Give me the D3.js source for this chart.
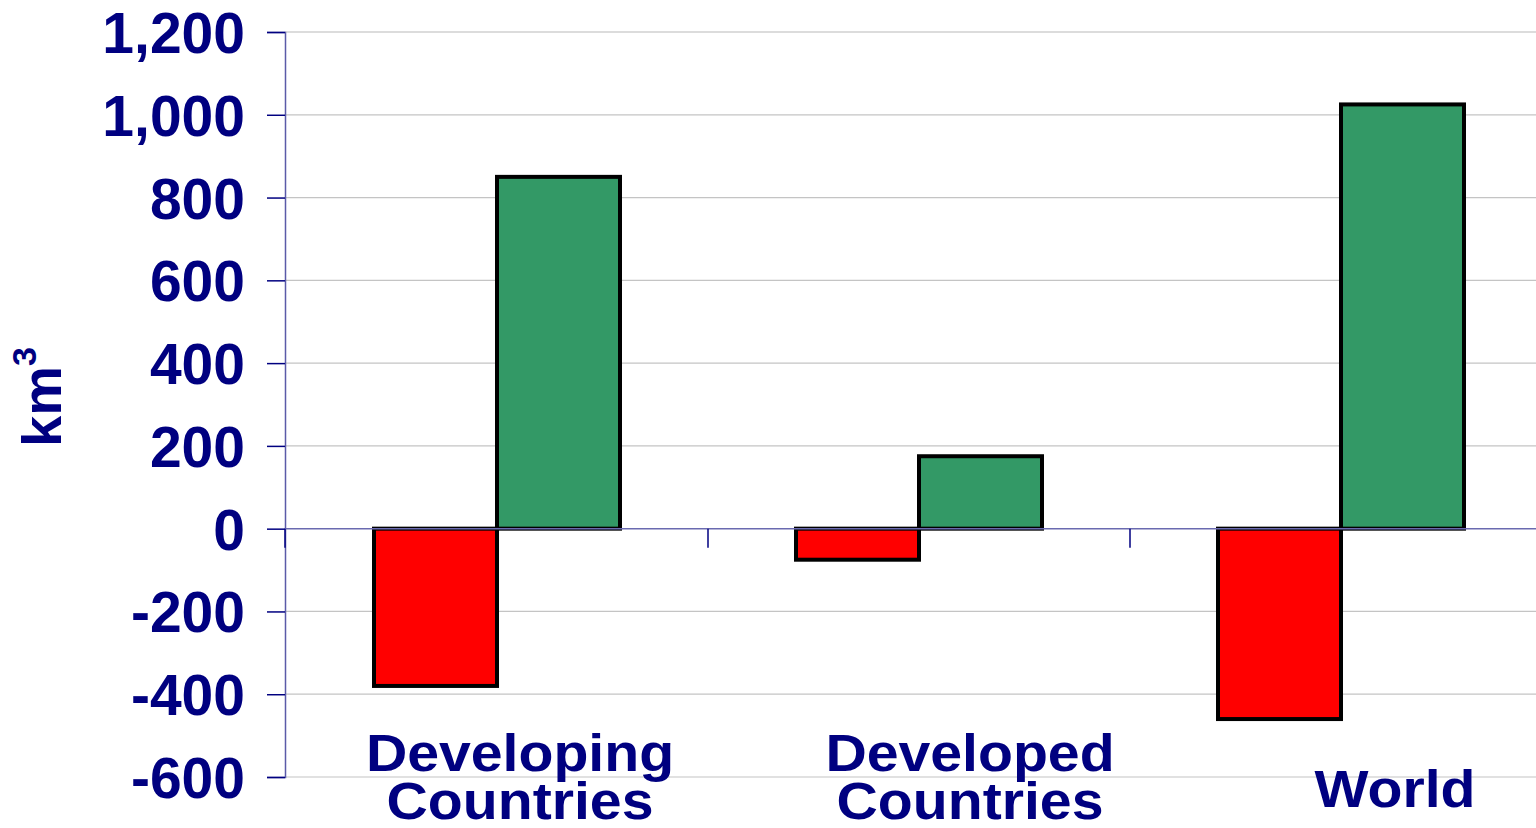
<!DOCTYPE html>
<html>
<head>
<meta charset="utf-8">
<script src="https://cdn.jsdelivr.net/npm/d3@7/dist/d3.min.js"></script>
<style>
  html, body { margin: 0; padding: 0; background: #ffffff; overflow: hidden; }
  svg { display: block; }
  text { font-family: "Liberation Sans", Arial, sans-serif; font-weight: bold; fill: #000080; }
</style>
</head>
<body>
<svg id="chart" width="1536" height="828"></svg>
<script>
// Change in volume by region (km³)
const categories = ["Developing Countries", "Developed Countries", "World"];
const categoryLines = [["Developing", "Countries"], ["Developed", "Countries"], ["World"]];
const decreaseValues = [-380, -75, -460];
const increaseValues = [850, 175, 1025];
const yTicks = [-600, -400, -200, 0, 200, 400, 600, 800, 1000, 1200];
const yTickLabels = ["-600", "-400", "-200", "0", "200", "400", "600", "800", "1,000", "1,200"];

const svg = d3.select("#chart");
const navy = "#000080";

const plot = { left: 285, right: 1552, top: 32, bottom: 777 };

const y = d3.scaleLinear().domain([-600, 1200]).range([plot.bottom, plot.top]);
const x = d3.scaleBand().domain(categories).range([plot.left + 1, plot.right]).padding(0);
const series = d3.scaleBand().domain(["decrease", "increase"]).range([0, 246]);

// horizontal gridlines
svg.append("g")
  .selectAll("line")
  .data(yTicks.filter(v => v !== 0))
  .join("line")
  .attr("x1", plot.left).attr("x2", 1536)
  .attr("y1", d => y(d)).attr("y2", d => y(d))
  .attr("stroke", d => d === 1200 ? "#dcdcdc" : "#c4c4c4")
  .attr("stroke-width", d => d === 1200 ? 2 : 1.2);

// y axis
const yAxis = d3.axisLeft(y)
  .tickValues(yTicks)
  .tickSize(18)
  .tickPadding(22)
  .tickFormat((d, i) => yTickLabels[i]);
const gy = svg.append("g")
  .attr("transform", `translate(${plot.left},0)`)
  .call(yAxis);
gy.select(".domain").attr("stroke", "#5a5aa8").attr("stroke-width", 1.5);
gy.selectAll(".tick line").attr("stroke", navy).attr("stroke-width", 1.5);
gy.selectAll(".tick text")
  .attr("fill", navy)
  .attr("font-size", 57)
  .attr("dy", "0.36em")
  .attr("font-family", "Liberation Sans, Arial, sans-serif")
  .attr("font-weight", "bold");

// bars
const rows = categories.map((c, i) => ({ cat: c, values: [
  { key: "decrease", value: decreaseValues[i] },
  { key: "increase", value: increaseValues[i] }
]}));
const colors = { decrease: "#ff0000", increase: "#339966" };

const groups = svg.append("g")
  .selectAll("g")
  .data(rows)
  .join("g")
  .attr("transform", d => `translate(${x(d.cat) + x.bandwidth() / 2 - series.range()[1] / 2},0)`);

groups.selectAll("rect")
  .data(d => d.values)
  .join("rect")
  .attr("x", d => series(d.key))
  .attr("width", series.bandwidth())
  .attr("y", d => y(Math.max(0, d.value)))
  .attr("height", d => Math.abs(y(d.value) - y(0)))
  .attr("fill", d => colors[d.key])
  .attr("stroke", "#000000")
  .attr("stroke-width", 4);

// zero baseline with category separators
const gx = svg.append("g").attr("transform", `translate(0,${y(0)})`);
gx.append("line")
  .attr("x1", plot.left).attr("x2", 1536)
  .attr("stroke", "#6a6ab0").attr("stroke-width", 1.5);
gx.selectAll("line.sep")
  .data([plot.left].concat(categories.slice(1).map(c => x(c))))
  .join("line")
  .attr("class", "sep")
  .attr("x1", d => d).attr("x2", d => d)
  .attr("y1", 0).attr("y2", 19)
  .attr("stroke", navy).attr("stroke-width", 1.5);

// category labels (slightly widened lettering)
const labelNudge = [23, 51, 54];
const labelTop = [771, 771, 807];
svg.append("g")
  .selectAll("text")
  .data(categories)
  .join("text")
  .attr("text-anchor", "middle")
  .attr("font-size", 52)
  .attr("transform", (d, i) => `translate(${x(d) + x.bandwidth() / 2 + labelNudge[i]},${labelTop[i]}) scale(1.1,1)`)
  .each(function (d, i) {
    d3.select(this).selectAll("tspan")
      .data(categoryLines[i])
      .join("tspan")
      .attr("x", 0)
      .attr("dy", (t, j) => j === 0 ? 0 : 48)
      .text(t => t);
  });

// y axis title
const title = svg.append("text")
  .attr("transform", "translate(61,447) rotate(-90)")
  .attr("font-size", 56);
title.append("tspan").text("km");
title.append("tspan").attr("font-size", 34).attr("dy", -25).text("3");
</script>
</body>
</html>
